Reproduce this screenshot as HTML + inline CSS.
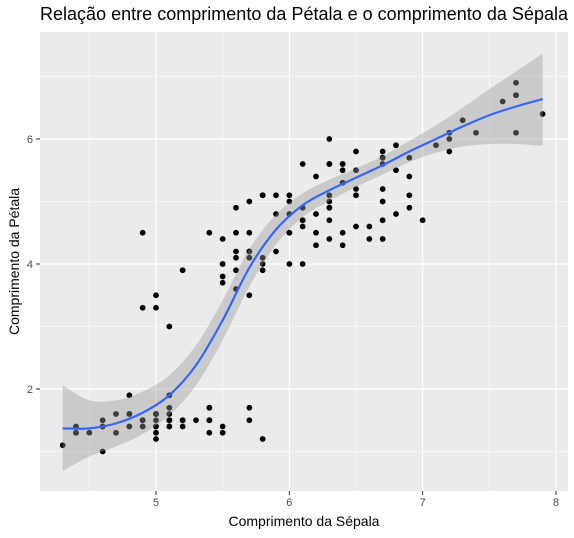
<!DOCTYPE html>
<html><head><meta charset="utf-8"><style>
body{margin:0;background:#fff;}
svg{display:block;font-family:"Liberation Sans",sans-serif;}
</style></head><body>
<svg id="c" width="574" height="538"></svg>
<script>
const sepal=[5.1,4.9,4.7,4.6,5.0,5.4,4.6,5.0,4.4,4.9,5.4,4.8,4.8,4.3,5.8,5.7,5.4,5.1,5.7,5.1,5.4,5.1,4.6,5.1,4.8,5.0,5.0,5.2,5.2,4.7,4.8,5.4,5.2,5.5,4.9,5.0,5.5,4.9,4.4,5.1,5.0,4.5,4.4,5.0,5.1,4.8,5.1,4.6,5.3,5.0,
7.0,6.4,6.9,5.5,6.5,5.7,6.3,4.9,6.6,5.2,5.0,5.9,6.0,6.1,5.6,6.7,5.6,5.8,6.2,5.6,5.9,6.1,6.3,6.1,6.4,6.6,6.8,6.7,6.0,5.7,5.5,5.5,5.8,6.0,5.4,6.0,6.7,6.3,5.6,5.5,5.5,6.1,5.8,5.0,5.6,5.7,5.7,6.2,5.1,5.7,
6.3,5.8,7.1,6.3,6.5,7.6,4.9,7.3,6.7,7.2,6.5,6.4,6.8,5.7,5.8,6.4,6.5,7.7,7.7,6.0,6.9,5.6,7.7,6.3,6.7,7.2,6.2,6.1,6.4,7.2,7.4,7.9,6.4,6.3,6.1,7.7,6.3,6.4,6.0,6.9,6.7,6.9,5.8,6.8,6.7,6.7,6.3,6.5,6.2,5.9];
const petal=[1.4,1.4,1.3,1.5,1.4,1.7,1.4,1.5,1.4,1.5,1.5,1.6,1.4,1.1,1.2,1.5,1.3,1.4,1.7,1.5,1.7,1.5,1.0,1.7,1.9,1.6,1.6,1.5,1.4,1.6,1.6,1.5,1.5,1.4,1.5,1.2,1.3,1.4,1.3,1.5,1.3,1.3,1.3,1.6,1.9,1.4,1.6,1.4,1.5,1.4,
4.7,4.5,4.9,4.0,4.6,4.5,4.7,3.3,4.6,3.9,3.5,4.2,4.0,4.7,3.6,4.4,4.5,4.1,4.5,3.9,4.8,4.0,4.9,4.7,4.3,4.4,4.8,5.0,4.5,3.5,3.8,3.7,3.9,5.1,4.5,4.5,4.7,4.4,4.1,4.0,4.4,4.6,4.0,3.3,4.2,4.2,4.2,4.3,3.0,4.1,
6.0,5.1,5.9,5.6,5.8,6.6,4.5,6.3,5.8,6.1,5.1,5.3,5.5,5.0,5.1,5.3,5.5,6.7,6.9,5.0,5.7,4.9,6.7,4.9,5.7,6.0,4.8,4.9,5.6,5.8,6.1,6.4,5.6,5.1,5.6,6.1,5.6,5.5,4.8,5.4,5.6,5.1,5.1,5.9,5.7,5.2,5.0,5.2,5.4,5.1];
const smoothX=[4.3,4.5,4.7,4.9,5.1,5.3,5.5,5.7,5.9,6.1,6.3,6.5,6.7,6.9,7.1,7.3,7.5,7.7,7.9];
const smoothFit=[1.37,1.37,1.45,1.62,1.9,2.38,3.1,3.94,4.55,4.94,5.18,5.38,5.58,5.8,6.0,6.2,6.38,6.52,6.64];
const smoothLo=[0.69,0.92,1.08,1.28,1.58,2.06,2.78,3.64,4.31,4.75,5.01,5.23,5.43,5.63,5.78,5.88,5.92,5.92,5.89];
const smoothHi=[2.06,1.82,1.82,1.96,2.22,2.7,3.42,4.24,4.79,5.13,5.35,5.53,5.73,5.97,6.22,6.5,6.8,7.08,7.37];
const xTicks=[5,6,7,8], yTicks=[2,4,6];
const L=40,R=568,T=32,B=491;
const sx=v=>156+(v-5)*133.33, sy=v=>389-(v-2)*62.5;
const svg=document.getElementById('c');const NS='http://www.w3.org/2000/svg';
function el(t,a,p){const e=document.createElementNS(NS,t);for(const k in a)e.setAttribute(k,a[k]);(p||svg).appendChild(e);return e;}
const bg=el('rect',{x:L,y:T,width:R-L,height:B-T,fill:'#EBEBEB'});


[4.5,5.5,6.5,7.5].forEach(v=>el('line',{x1:sx(v),x2:sx(v),y1:T,y2:B,stroke:'#fff','stroke-width':0.6}));
[1,3,5,7].forEach(v=>el('line',{x1:L,x2:R,y1:sy(v),y2:sy(v),stroke:'#fff','stroke-width':0.6}));
xTicks.forEach(v=>{el('line',{x1:sx(v),x2:sx(v),y1:T,y2:B,stroke:'#fff','stroke-width':1.2});
 el('line',{x1:sx(v),x2:sx(v),y1:B,y2:B+4,stroke:'#333'});
 const t=el('text',{x:sx(v),y:B+15,'font-size':11,fill:'#4D4D4D','text-anchor':'middle'});t.textContent=v;
 
 });
yTicks.forEach(v=>{el('line',{x1:L,x2:R,y1:sy(v),y2:sy(v),stroke:'#fff','stroke-width':1.2});
 el('line',{x1:L-4,x2:L,y1:sy(v),y2:sy(v),stroke:'#333'});
 const t=el('text',{x:L-7,y:sy(v)+4,'font-size':11,fill:'#4D4D4D','text-anchor':'end'});t.textContent=v;
 
 });
sepal.forEach((v,i)=>{const c=el('circle',{cx:sx(v),cy:sy(petal[i]),r:2.9,fill:'#000'});
 
 });
function cr(pts){let d='M'+pts[0][0]+','+pts[0][1];for(let i=0;i<pts.length-1;i++){const p0=pts[Math.max(0,i-1)],p1=pts[i],p2=pts[i+1],p3=pts[Math.min(pts.length-1,i+2)];
 d+=' C'+(p1[0]+(p2[0]-p0[0])/6)+','+(p1[1]+(p2[1]-p0[1])/6)+' '+(p2[0]-(p3[0]-p1[0])/6)+','+(p2[1]-(p3[1]-p1[1])/6)+' '+p2[0]+','+p2[1];}return d;}
const up=smoothX.map((x,i)=>[sx(x),sy(smoothHi[i])]);
const lo=smoothX.map((x,i)=>[sx(x),sy(smoothLo[i])]).reverse();
const band=el('path',{d:cr(up)+' L'+cr(lo).slice(1)+' Z',fill:'#999999','fill-opacity':0.4});


const line=el('path',{d:cr(smoothX.map((x,i)=>[sx(x),sy(smoothFit[i])])),fill:'none',stroke:'#3366FF','stroke-width':2.2});


const title=el('text',{x:40,y:20,'font-size':18,fill:'#000',textLength:528});title.textContent='Relação entre comprimento da Pétala e o comprimento da Sépala';


const xl=el('text',{x:(L+R)/2,y:526,'font-size':14,fill:'#000','text-anchor':'middle'});xl.textContent='Comprimento da Sépala';


const yl=el('text',{x:0,y:0,'font-size':14,fill:'#000','text-anchor':'middle',transform:'translate(19,'+((T+B)/2)+') rotate(-90)'});yl.textContent='Comprimento da Pétala';


</script>
</body></html>
